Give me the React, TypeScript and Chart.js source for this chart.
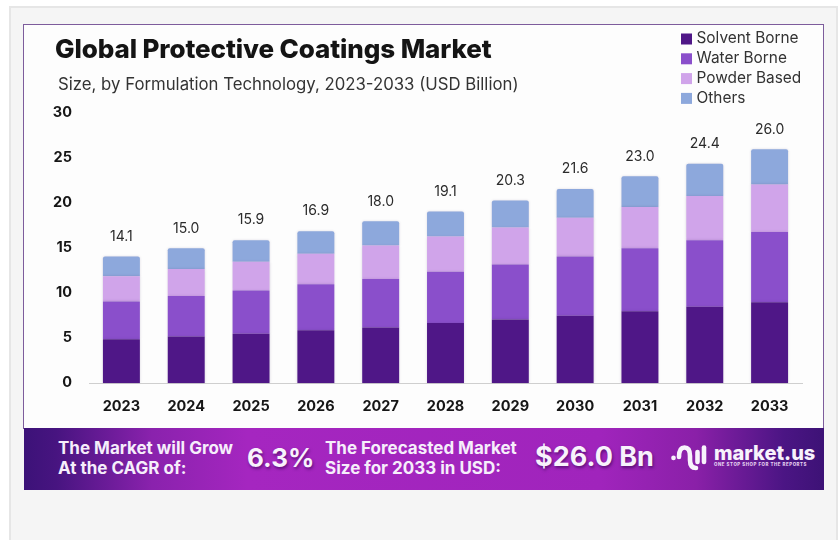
import React, { useEffect, useRef } from "react";
import { Chart, registerables } from "chart.js";

Chart.register(...registerables);

// Market size by formulation technology, USD billion
const years = ["2023", "2024", "2025", "2026", "2027", "2028", "2029", "2030", "2031", "2032", "2033"];
const solventBorne = [4.9, 5.2, 5.5, 5.9, 6.2, 6.7, 7.1, 7.5, 8.0, 8.5, 9.0];
const waterBorne = [4.2, 4.5, 4.8, 5.1, 5.4, 5.7, 6.1, 6.6, 7.0, 7.4, 7.8];
const powderBased = [2.8, 3.0, 3.2, 3.4, 3.7, 3.9, 4.1, 4.3, 4.6, 4.9, 5.3];
const others = [2.2, 2.3, 2.4, 2.5, 2.7, 2.8, 3.0, 3.2, 3.4, 3.6, 3.9];

const FONT = "Inter, 'Noto Sans', sans-serif";

const totalsPlugin = {
  id: "stackTotals",
  afterDatasetsDraw(chart: any) {
    const { ctx } = chart;
    const top = chart.getDatasetMeta(chart.data.datasets.length - 1);
    ctx.save();
    ctx.shadowColor = "transparent";
    ctx.font = `400 14px ${FONT}`;
    ctx.fillStyle = "#2b2b2b";
    ctx.textAlign = "center";
    ctx.textBaseline = "middle";
    years.forEach((_, i) => {
      const total = chart.data.datasets.reduce((s: number, d: any) => s + d.data[i], 0);
      ctx.fillText(total.toFixed(1), top.data[i].x, top.data[i].y - 20);
    });
    ctx.restore();
  },
};

const cornerLegendPlugin = {
  id: "cornerLegend",
  afterDraw(chart: any) {
    const { ctx } = chart;
    ctx.save();
    ctx.font = `400 15.4px ${FONT}`;
    ctx.textBaseline = "middle";
    chart.data.datasets.forEach((d: any, i: number) => {
      const y = 38.5 + i * 19.8;
      ctx.fillStyle = d.backgroundColor;
      ctx.fillRect(681, y - 5, 11, 11);
      ctx.fillStyle = "#333333";
      ctx.fillText(d.label, 696.5, y);
    });
    ctx.restore();
  },
};

const barShadowPlugin = {
  id: "barShadow",
  beforeDatasetsDraw(chart: any) {
    chart.ctx.save();
    chart.ctx.shadowColor = "rgba(60,40,90,0.18)";
    chart.ctx.shadowBlur = 2.5;
  },
  afterDatasetsDraw(chart: any) {
    chart.ctx.restore();
  },
};

const abs = (left: number, top: number, extra: React.CSSProperties = {}): React.CSSProperties => ({
  position: "absolute",
  left,
  top,
  whiteSpace: "nowrap",
  fontFamily: FONT,
  ...extra,
});

const bannerLine: React.CSSProperties = { color: "#f6eefb", fontWeight: 700, fontSize: 17, lineHeight: "20px" };
const bannerBig: React.CSSProperties = {
  color: "#f8f2fc",
  fontWeight: 700,
  fontSize: 27,
  lineHeight: "32px",
  textShadow: "1px 2px 3px rgba(40,0,70,0.55)",
};

export default function App() {
  const canvasRef = useRef<HTMLCanvasElement>(null);

  useEffect(() => {
    document.body.style.margin = "0";
    const makeSet = (label: string, data: number[], color: string, radius = 0) => ({
      label,
      data,
      backgroundColor: color,
      stack: "size",
      categoryPercentage: 1,
      barPercentage: 0.57,
      borderRadius: { topLeft: radius, topRight: radius, bottomLeft: 0, bottomRight: 0 },
      borderSkipped: false,
    });
    const chart = new Chart(canvasRef.current!, {
      type: "bar",
      data: {
        labels: years,
        datasets: [
          makeSet("Solvent Borne", solventBorne, "#4f1787"),
          makeSet("Water Borne", waterBorne, "#8a4fcb"),
          makeSet("Powder Based", powderBased, "#d0a4ea"),
          makeSet("Others", others, "#8da8dc", 2),
        ],
      },
      plugins: [barShadowPlugin, totalsPlugin, cornerLegendPlugin],
      options: {
        animation: false,
        responsive: false,
        layout: { padding: { left: 0, right: 36, top: 113.3, bottom: 0 } },
        plugins: { legend: { display: false }, title: { display: false }, tooltip: { enabled: false } },
        scales: {
          x: {
            stacked: true,
            grid: { display: false, drawTicks: false },
            border: { display: true, color: "#cfcfcf", width: 1 },
            ticks: {
              color: "#161616",
              font: { family: FONT, size: 14.5, weight: 700 },
              padding: 15,
              maxRotation: 0,
            },
            afterFit(scale: any) {
              scale.height = 156.7;
            },
          },
          y: {
            stacked: true,
            min: 0,
            max: 30,
            grid: { display: false, drawTicks: false },
            border: { display: false },
            ticks: {
              stepSize: 5,
              color: "#161616",
              font: { family: FONT, size: 14.5, weight: 700 },
              padding: 17,
              labelOffset: -1,
            },
            afterFit(scale: any) {
              scale.width = 89;
            },
          },
        },
      },
    } as any);
    return () => chart.destroy();
  }, []);

  return (
    <div style={{ position: "relative", width: 838, height: 540, overflow: "hidden", background: "#ffffff" }}>
      {/* page panel behind the card */}
      <div
        style={{
          position: "absolute",
          left: 9,
          top: 6,
          width: 825,
          height: 560,
          background: "#f5f5f5",
          border: "2px solid #e6e6e6",
        }}
      />
      {/* card */}
      <div
        style={{
          position: "absolute",
          left: 23,
          top: 24,
          width: 799,
          height: 404,
          background: "#fdfdfd",
          border: "1.5px solid #7d5c9c",
          borderBottom: "none",
        }}
      />
      <canvas ref={canvasRef} width={838} height={540} style={{ position: "absolute", left: 0, top: 0 }} />
      <div style={abs(55, 31, { fontSize: 26, lineHeight: "36px", fontWeight: 800, color: "#141414", letterSpacing: -0.1 })}>
        Global Protective Coatings Market
      </div>
      <div style={abs(58, 72, { fontSize: 16.75, lineHeight: "24px", fontWeight: 400, color: "#333333" })}>
        Size, by Formulation Technology, 2023-2033 (USD Billion)
      </div>

      {/* forecast banner */}
      <div
        style={{
          position: "absolute",
          left: 24,
          top: 428,
          width: 800,
          height: 62,
          background:
            "linear-gradient(90deg, #3c1278 0%, #471480 4%, #8a22ad 16%, #a526c0 28%, #a024bc 72%, #8a20a8 84%, #4b1584 95%, #3d1276 100%)",
        }}
      />
      <div style={abs(58, 438, bannerLine)}>
        The Market will Grow
        <br />
        At the CAGR of:
      </div>
      <div style={abs(247, 442, { ...bannerBig, fontSize: 26 })}>6.3%</div>
      <div style={abs(325, 438, bannerLine)}>
        The Forecasted Market
        <br />
        Size for 2033 in USD:
      </div>
      <div style={abs(535, 441, bannerBig)}>$26.0 Bn</div>

      {/* market.us mark */}
      <svg style={{ position: "absolute", left: 670, top: 443 }} width={40} height={30} viewBox="0 0 40 30">
        <g fill="none" stroke="#f8f2fc" strokeWidth={4.6} strokeLinecap="round">
          <path d="M9 14 Q9 4.5 14.5 4.5 Q20 4.5 20 13 V17 Q20 25 26 25" />
          <path d="M27.5 9 V19" />
          <path d="M34 4.5 V19" />
          <path d="M3.5 14.8 V15" />
        </g>
      </svg>
      <div style={abs(714, 440, { fontSize: 20, lineHeight: "26px", fontWeight: 800, color: "#f8f2fc" })}>market.us</div>
      <div style={abs(714, 461.5, { fontSize: 4.4, lineHeight: "6px", fontWeight: 800, color: "#e4cff0", letterSpacing: 0.55 })}>
        ONE STOP SHOP FOR THE REPORTS
      </div>
    </div>
  );
}
